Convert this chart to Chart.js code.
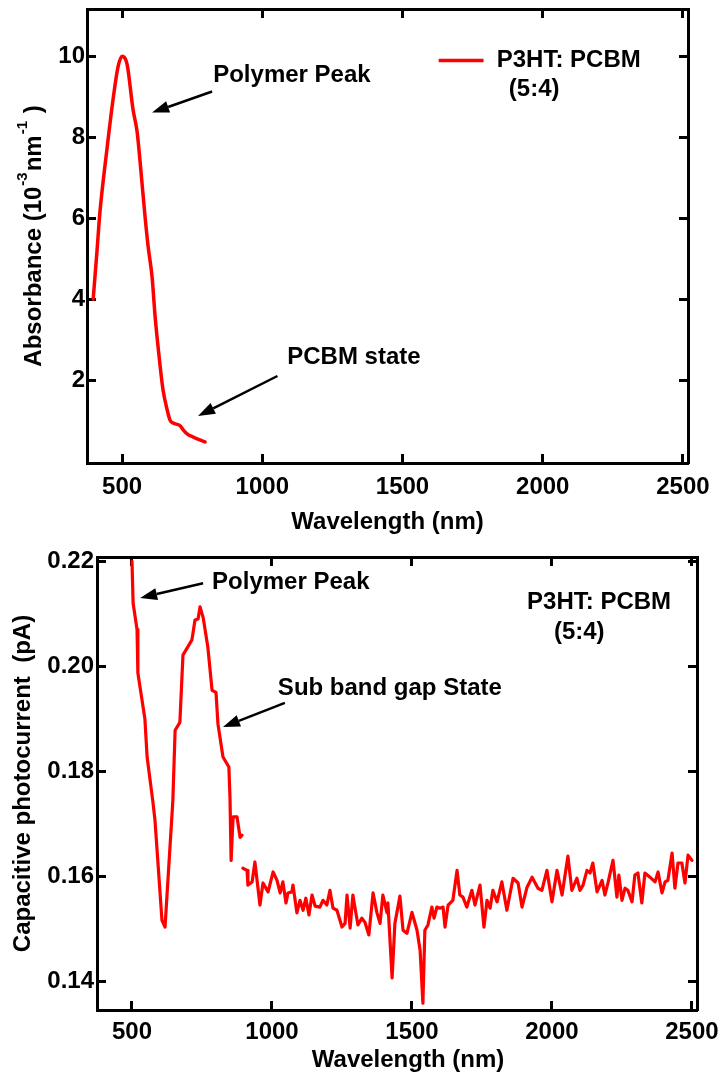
<!DOCTYPE html>
<html><head><meta charset="utf-8">
<script src="https://cdn.jsdelivr.net/npm/chart.js@4.4.1/dist/chart.umd.min.js"></script>
<style>
html,body{margin:0;padding:0;background:#fff;}
canvas{display:block;}
</style></head>
<body>
<canvas id="topChart" width="720" height="535"></canvas>
<canvas id="bottomChart" width="720" height="541"></canvas>
<script>
// ---------- data ----------
const absWavelength = [397, 411, 421, 446, 468, 486, 500, 518, 539, 554, 571, 582, 593, 607, 618, 636, 646, 661, 671, 682, 707, 718, 732, 754, 796];
const absValues     = [4.0, 5.22, 6.14, 7.70, 8.94, 9.75, 10.0, 9.8, 8.69, 8.12, 6.88, 6.04, 5.30, 4.55, 3.56, 2.33, 1.76, 1.26, 1.01, 0.94, 0.87, 0.77, 0.67, 0.59, 0.47];

const cpWavelength1 = [500, 504, 518, 521, 546, 554, 575, 582, 607, 618, 646, 654, 671, 682, 714, 725, 736, 743, 754, 771, 786, 800, 807, 825, 846, 850, 854, 861, 875, 886, 893];
const cpValues1     = [0.220, 0.212, 0.207, 0.1987, 0.190, 0.1827, 0.174, 0.1707, 0.1516, 0.1503, 0.1745, 0.1878, 0.1893, 0.2021, 0.205, 0.2088, 0.209, 0.2113, 0.2093, 0.2036, 0.1954, 0.195, 0.189, 0.1827, 0.1808, 0.175, 0.163, 0.1713, 0.1713, 0.1674, 0.1678];

const cpWavelength2 = [896, 911, 914, 929, 939, 950, 957, 968, 986, 1004, 1018, 1029, 1039, 1050, 1057, 1071, 1075, 1089, 1100, 1111, 1121, 1132, 1143, 1154, 1171, 1182, 1196, 1207, 1218, 1232, 1250, 1261, 1268, 1279, 1289, 1296, 1307, 1321, 1332, 1346, 1361, 1375, 1386, 1396, 1411, 1414, 1429, 1439, 1457, 1468, 1482, 1500, 1518, 1529, 1539, 1546, 1557, 1571, 1579, 1589, 1600, 1611, 1618, 1629, 1646, 1661, 1671, 1682, 1696, 1714, 1725, 1743, 1757, 1768, 1779, 1789, 1804, 1821, 1839, 1861, 1879, 1893, 1911, 1929, 1950, 1964, 1982, 2000, 2018, 2036, 2057, 2071, 2089, 2100, 2111, 2125, 2136, 2146, 2161, 2179, 2189, 2200, 2218, 2232, 2239, 2250, 2261, 2271, 2286, 2296, 2307, 2321, 2332, 2350, 2368, 2379, 2393, 2404, 2414, 2429, 2439, 2450, 2464, 2475, 2486, 2500];
const cpValues2     = [0.1615, 0.1611, 0.1583, 0.1589, 0.1627, 0.1577, 0.1545, 0.1587, 0.1570, 0.1608, 0.1592, 0.1568, 0.1589, 0.1549, 0.1568, 0.1570, 0.1583, 0.1530, 0.1554, 0.1535, 0.1558, 0.1526, 0.1564, 0.1543, 0.1541, 0.1554, 0.1545, 0.1573, 0.1539, 0.1535, 0.1503, 0.1510, 0.1564, 0.1501, 0.1564, 0.1541, 0.1507, 0.1520, 0.1512, 0.1488, 0.1568, 0.1530, 0.1510, 0.1564, 0.1530, 0.1549, 0.1406, 0.1510, 0.1562, 0.1497, 0.1491, 0.1531, 0.1497, 0.1459, 0.1358, 0.1497, 0.1507, 0.1541, 0.1520, 0.1541, 0.1539, 0.1541, 0.1503, 0.1545, 0.1554, 0.1611, 0.1564, 0.1560, 0.1541, 0.1573, 0.1545, 0.1583, 0.1503, 0.1554, 0.1539, 0.1573, 0.1551, 0.1589, 0.1535, 0.1596, 0.1587, 0.1541, 0.1579, 0.1598, 0.1577, 0.1573, 0.1611, 0.1551, 0.1611, 0.1564, 0.1638, 0.1573, 0.1596, 0.1573, 0.1583, 0.1611, 0.1606, 0.1625, 0.1570, 0.1592, 0.1564, 0.1587, 0.1630, 0.1560, 0.1602, 0.1554, 0.1577, 0.1573, 0.1551, 0.1602, 0.1606, 0.1549, 0.1606, 0.1598, 0.1589, 0.1608, 0.1568, 0.1589, 0.1592, 0.1644, 0.1577, 0.1625, 0.1625, 0.1587, 0.1640, 0.1630];

const xTickValues   = [500, 1000, 1500, 2000, 2500];
const absTickValues = [2, 4, 6, 8, 10];
const cpTickValues  = [0.14, 0.16, 0.18, 0.20, 0.22];

const seriesLabel = 'P3HT: PCBM';
const seriesRatio = '(5:4)';

// ---------- styling helpers ----------
const FONT = "'Liberation Sans', Arial, Helvetica, sans-serif";
const toXY = (xs, ys) => xs.map((x, i) => ({x: x, y: ys[i]}));

function makeAxis(pos, min, max, tickList, o) {
  const vertical = (pos === 'left' || pos === 'right');
  return {
    type: 'linear', position: pos, min: min, max: max,
    afterBuildTicks: s => { s.ticks = tickList.map(v => ({value: v})); },
    afterFit: s => {
      if (vertical) s.width = o.size; else s.height = o.size;
      s.paddingLeft = 0; s.paddingRight = 0; s.paddingTop = 0; s.paddingBottom = 0;
    },
    grid: { display: true, drawOnChartArea: false, drawTicks: true, tickLength: -9, tickWidth: 3, tickColor: '#000' },
    border: { display: true, width: 3, color: '#000' },
    ticks: {
      display: !!o.labels, padding: o.pad || 0, color: '#000',
      font: { family: FONT, size: 24, weight: 'bold' },
      callback: o.fmt || (v => String(v))
    },
    title: o.title ? {
      display: true, text: o.title, color: '#000',
      font: { family: FONT, size: 24, weight: 'bold', lineHeight: 1 },
      padding: o.titlePad
    } : { display: false }
  };
}

function drawArrow(ctx, x1, y1, x2, y2) {
  const ang = Math.atan2(y2 - y1, x2 - x1);
  const hl = 17, hw = 6;
  const bx = x2 - hl * Math.cos(ang), by = y2 - hl * Math.sin(ang);
  ctx.strokeStyle = '#000'; ctx.lineWidth = 2.5;
  ctx.beginPath(); ctx.moveTo(x1, y1); ctx.lineTo(bx, by); ctx.stroke();
  ctx.fillStyle = '#000';
  ctx.beginPath();
  ctx.moveTo(x2, y2);
  ctx.lineTo(bx + hw * Math.sin(ang), by - hw * Math.cos(ang));
  ctx.lineTo(bx - hw * Math.sin(ang), by + hw * Math.cos(ang));
  ctx.closePath(); ctx.fill();
}

function annotationPlugin(items) {
  return {
    id: 'annotations',
    afterDraw(chart) {
      const ctx = chart.ctx, xs = chart.scales.x, ys = chart.scales.y;
      ctx.save();
      items.forEach(it => {
        if (it.kind === 'text') {
          ctx.font = 'bold 24px ' + FONT;
          ctx.fillStyle = '#000'; ctx.textAlign = it.align || 'left'; ctx.textBaseline = 'middle';
          ctx.fillText(it.text, xs.getPixelForValue(it.x), ys.getPixelForValue(it.y));
        } else if (it.kind === 'arrow') {
          drawArrow(ctx, xs.getPixelForValue(it.x1), ys.getPixelForValue(it.y1),
                         xs.getPixelForValue(it.x2), ys.getPixelForValue(it.y2));
        } else if (it.kind === 'swatch') {
          ctx.strokeStyle = '#ff0000'; ctx.lineWidth = 3.5;
          ctx.beginPath();
          ctx.moveTo(xs.getPixelForValue(it.x1), ys.getPixelForValue(it.y));
          ctx.lineTo(xs.getPixelForValue(it.x2), ys.getPixelForValue(it.y));
          ctx.stroke();
        }
      });
      ctx.restore();
    }
  };
}

// rotated y title with superscripts
const absTitleParts = [
  {t: 'Absorbance (10', sup: false},
  {t: '-3', sup: true},
  {t: 'nm', sup: false},
  {t: '-1', sup: true},
  {t: ' )', sup: false}
];
const yTitlePlugin = {
  id: 'yTitle',
  afterDraw(chart) {
    const ctx = chart.ctx, a = chart.chartArea;
    const cx = 33, cy = (a.top + a.bottom) / 2;
    ctx.save();
    ctx.translate(cx, cy);
    ctx.rotate(-Math.PI / 2);
    ctx.fillStyle = '#000';
    ctx.textBaseline = 'middle';
    ctx.textAlign = 'left';
    const big = 'bold 24px ' + FONT, small = 'bold 15px ' + FONT;
    let total = 0;
    absTitleParts.forEach(p => { ctx.font = p.sup ? small : big; total += ctx.measureText(p.t).width + (p.sup ? 2 : 0); });
    let x = -total / 2;
    absTitleParts.forEach(p => {
      ctx.font = p.sup ? small : big;
      ctx.fillText(p.t, x + (p.sup ? 1 : 0), p.sup ? -10 : 1);
      x += ctx.measureText(p.t).width + (p.sup ? 2 : 0);
    });
    ctx.restore();
  }
};

// ---------- top chart ----------
new Chart(document.getElementById('topChart'), {
  type: 'line',
  data: {
    datasets: [{
      label: seriesLabel,
      data: toXY(absWavelength, absValues),
      borderColor: '#ff0000', borderWidth: 3.5,
      pointRadius: 0, fill: false,
      cubicInterpolationMode: 'monotone',
      borderJoinStyle: 'round', borderCapStyle: 'round'
    }]
  },
  options: {
    responsive: false, animation: false, devicePixelRatio: 1,
    layout: { padding: 0 },
    plugins: { legend: { display: false }, tooltip: { enabled: false } },
    scales: {
      x:  makeAxis('bottom', 375, 2518, xTickValues, { size: 72, labels: true, pad: 19, title: 'Wavelength (nm)', titlePad: { top: 0, bottom: 1 } }),
      x2: makeAxis('top', 375, 2518, xTickValues, { size: 9 }),
      y:  makeAxis('left', -0.05, 11.17, absTickValues, { size: 87, labels: true, pad: 11 }),
      y2: makeAxis('right', -0.05, 11.17, absTickValues, { size: 32 })
    }
  },
  plugins: [yTitlePlugin, annotationPlugin([
    {kind: 'text', text: 'Polymer Peak', x: 825, y: 9.53},
    {kind: 'arrow', x1: 821, y1: 9.13, x2: 607, y2: 8.61},
    {kind: 'text', text: 'PCBM state', x: 1089, y: 2.55},
    {kind: 'arrow', x1: 1054, y1: 2.10, x2: 771, y2: 1.11},
    {kind: 'swatch', x1: 1629, x2: 1789, y: 9.90},
    {kind: 'text', text: seriesLabel, x: 1836, y: 9.90},
    {kind: 'text', text: seriesRatio, x: 1879, y: 9.18}
  ])]
});

// ---------- bottom chart ----------
new Chart(document.getElementById('bottomChart'), {
  type: 'line',
  data: {
    datasets: [{
      label: seriesLabel,
      data: toXY(cpWavelength1, cpValues1),
      borderColor: '#ff0000', borderWidth: 3.2, pointRadius: 0, fill: false, tension: 0,
      borderJoinStyle: 'round', borderCapStyle: 'round'
    }, {
      label: seriesLabel,
      data: toXY(cpWavelength2, cpValues2),
      borderColor: '#ff0000', borderWidth: 3.2, pointRadius: 0, fill: false, tension: 0,
      borderJoinStyle: 'round', borderCapStyle: 'round'
    }]
  },
  options: {
    responsive: false, animation: false, devicePixelRatio: 1,
    layout: { padding: 0 },
    plugins: { legend: { display: false }, tooltip: { enabled: false } },
    scales: {
      x:  makeAxis('bottom', 375, 2518, xTickValues, { size: 66, labels: true, pad: 17 }),
      x2: makeAxis('top', 375, 2518, xTickValues, { size: 22 }),
      y:  makeAxis('left', 0.1345, 0.2208, cpTickValues, { size: 97, labels: true, pad: 12, fmt: v => v.toFixed(2), title: 'Capacitive photocurrent  (pA)', titlePad: { top: 11, bottom: 0 } }),
      y2: makeAxis('right', 0.1345, 0.2208, cpTickValues, { size: 23 })
    }
  },
  plugins: [annotationPlugin([
    {kind: 'text', text: 'Polymer Peak', x: 786, y: 0.2160},
    {kind: 'arrow', x1: 754, y1: 0.2158, x2: 529, y2: 0.2130},
    {kind: 'text', text: 'Sub band gap State', x: 1021, y: 0.1958},
    {kind: 'arrow', x1: 1046, y1: 0.1930, x2: 825, y2: 0.1884},
    {kind: 'text', text: seriesLabel, x: 1911, y: 0.2122},
    {kind: 'text', text: seriesRatio, x: 2007, y: 0.2065},
    {kind: 'title', text: ''}
  ]), {
    id: 'xTitle',
    afterDraw(chart) {
      const ctx = chart.ctx, a = chart.chartArea;
      ctx.save();
      ctx.font = 'bold 24px ' + FONT;
      ctx.fillStyle = '#000'; ctx.textAlign = 'center'; ctx.textBaseline = 'middle';
      ctx.fillText('Wavelength (nm)', (a.left + a.right) / 2 + 11, chart.height - 16);
      ctx.restore();
    }
  }]
});
</script>
</body></html>
